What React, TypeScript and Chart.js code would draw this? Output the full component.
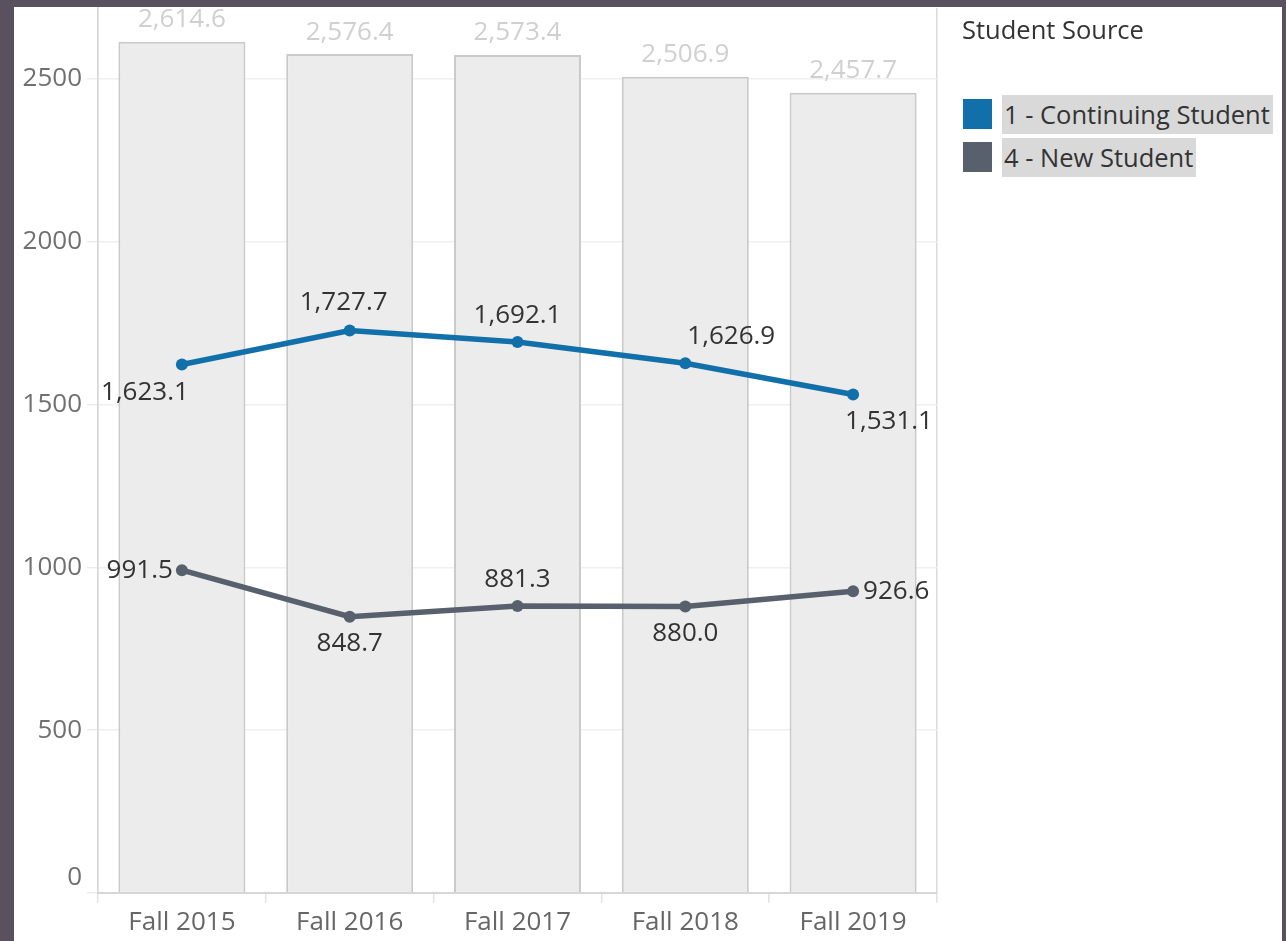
import React, { useEffect, useRef } from 'react';
import { Chart, registerables } from 'chart.js';

Chart.register(...registerables);

const categories = ['Fall 2015', 'Fall 2016', 'Fall 2017', 'Fall 2018', 'Fall 2019'];
const totalValues = [2614.6, 2576.4, 2573.4, 2506.9, 2457.7];
const continuingValues = [1623.1, 1727.7, 1692.1, 1626.9, 1531.1];
const newValues = [991.5, 848.7, 881.3, 880.0, 926.6];
const yTicks = [0, 500, 1000, 1500, 2000, 2500];
const yMax = 2718;
const legendTitle = 'Student Source';
const seriesNames = ['1 - Continuing Student', '4 - New Student'];
const continuingPlacement = ['below-left', 'above-l', 'above', 'above-right', 'below-right'];
const newPlacement = ['left', 'below', 'above', 'below', 'right'];

const BLUE = '#1170aa';
const GRAY = '#57606c';
const FONT = "'Open Sans', sans-serif";

function place(p: string) {
  switch (p) {
    case 'above': return { dx: 0, dy: -26, align: 'center' };
    case 'above-l': return { dx: -6, dy: -28, align: 'center' };
    case 'below': return { dx: 0, dy: 27, align: 'center' };
    case 'left': return { dx: -9, dy: 0, align: 'right' };
    case 'right': return { dx: 10, dy: 0, align: 'left' };
    case 'below-left': return { dx: 7, dy: 28, align: 'right' };
    case 'above-right': return { dx: 2, dy: -27, align: 'left' };
    case 'below-right': return { dx: -8, dy: 27, align: 'left' };
    default: return { dx: 0, dy: -26, align: 'center' };
  }
}

const fmt = (v: number) =>
  v.toLocaleString('en-US', { minimumFractionDigits: 1, maximumFractionDigits: 1 });

const labelPlugin = {
  id: 'valueLabels',
  afterDatasetsDraw(chart: any) {
    const ctx = chart.ctx;
    ctx.save();
    ctx.font = `26px ${FONT}`;
    ctx.textBaseline = 'middle';
    const barMeta = chart.getDatasetMeta(0);
    barMeta.data.forEach((el: any, i: number) => {
      ctx.fillStyle = '#d0d0d0';
      ctx.textAlign = 'center';
      ctx.fillText(fmt(totalValues[i]), el.x, el.y - 22);
    });
    const lines = [
      { idx: 1, vals: continuingValues, pl: continuingPlacement },
      { idx: 2, vals: newValues, pl: newPlacement },
    ];
    lines.forEach((ln) => {
      const meta = chart.getDatasetMeta(ln.idx);
      meta.data.forEach((el: any, i: number) => {
        const p = place(ln.pl[i]);
        ctx.fillStyle = '#333333';
        ctx.textAlign = p.align;
        ctx.fillText(fmt(ln.vals[i]), el.x + p.dx, el.y + p.dy);
      });
    });
    const y = chart.scales.y;
    ctx.fillStyle = '#707070';
    ctx.textAlign = 'right';
    ctx.fillText('0', y.right - 11 - 5, y.getPixelForValue(0) - 15);
    ctx.restore();
  },
};

export default function App() {
  const ref = useRef<HTMLCanvasElement | null>(null);

  useEffect(() => {
    if (!ref.current) return;
    const chart = new Chart(ref.current, {
      type: 'bar',
      data: {
        labels: categories,
        datasets: [
          {
            type: 'bar',
            label: 'Total',
            data: totalValues,
            backgroundColor: '#ececec',
            borderColor: '#cacaca',
            borderWidth: 2,
            categoryPercentage: 1,
            barPercentage: 0.757,
            order: 3,
          } as any,
          {
            type: 'line',
            label: seriesNames[0],
            data: continuingValues,
            borderColor: BLUE,
            backgroundColor: BLUE,
            borderWidth: 5.5,
            pointRadius: 6,
            pointBackgroundColor: BLUE,
            pointBorderWidth: 0,
            tension: 0,
            order: 1,
          },
          {
            type: 'line',
            label: seriesNames[1],
            data: newValues,
            borderColor: GRAY,
            backgroundColor: GRAY,
            borderWidth: 5.5,
            pointRadius: 6,
            pointBackgroundColor: GRAY,
            pointBorderWidth: 0,
            tension: 0,
            order: 1,
          },
        ],
      },
      options: {
        responsive: false,
        animation: false,
        layout: { padding: { left: 0, right: 345, top: 0, bottom: 0 } },
        plugins: { legend: { display: false }, tooltip: { enabled: false } },
        scales: {
          x: {
            offset: true,
            grid: {
              offset: true,
              drawOnChartArea: true,
              color: (c: any) => (c.index === 0 || c.index === undefined ? '#dadada' : 'rgba(0,0,0,0)'),
              tickColor: '#e2e2e2',
              tickLength: 10,
              lineWidth: 1.5,
            },
            border: { display: true, color: '#d6d6d6', width: 2 },
            ticks: {
              color: '#666666',
              font: { family: FONT, size: 26, lineHeight: 1 },
              padding: 7,
              maxRotation: 0,
              autoSkip: false,
            },
            afterFit: (s: any) => {
              s.height = 48;
              s.paddingLeft = 0;
              s.paddingRight = 0;
            },
          },
          y: {
            min: 0,
            max: yMax,
            afterBuildTicks: (s: any) => {
              s.ticks = yTicks.map((v) => ({ value: v }));
            },
            grid: {
              color: '#f0f0f0',
              tickColor: '#ececec',
              tickLength: 11,
              lineWidth: 1.5,
            },
            border: { display: true, color: '#d8d8d8', width: 1.5 },
            ticks: {
              color: '#707070',
              font: { family: FONT, size: 26, lineHeight: 1 },
              padding: 5,
              callback: (v: any) => (Number(v) === 0 ? '' : String(v)),
            },
            afterFit: (s: any) => {
              s.width = 84;
              s.paddingTop = 0;
              s.paddingBottom = 0;
            },
          },
        },
      },
      plugins: [labelPlugin],
    });
    return () => chart.destroy();
  }, []);

  const textStyle: React.CSSProperties = {
    position: 'absolute',
    fontFamily: FONT,
    fontSize: 25.5,
    color: '#333333',
    whiteSpace: 'nowrap',
  };

  return (
    <div style={{ position: 'fixed', left: 0, top: 0, width: 1286, height: 941, background: '#59525e', overflow: 'hidden' }}>
      <div style={{ position: 'absolute', left: 14, top: 7, width: 1268, height: 934, background: '#ffffff', overflow: 'hidden' }}>
        <canvas ref={ref} width={1268} height={939} style={{ position: 'absolute', left: 0, top: -5 }} />
        <div style={{ ...textStyle, left: 948, top: 6, lineHeight: '32px' }}>{legendTitle}</div>
        {seriesNames.map((name, i) => (
          <React.Fragment key={name}>
            <div style={{ position: 'absolute', left: 949, top: 92 + i * 43, width: 29, height: 30, background: i === 0 ? BLUE : GRAY }} />
            <div style={{ ...textStyle, left: 988, top: 88 + i * 43, height: 39, lineHeight: '39px', background: '#d9d9d9', padding: '0 3px 0 2px' }}>{name}</div>
          </React.Fragment>
        ))}
      </div>
    </div>
  );
}
